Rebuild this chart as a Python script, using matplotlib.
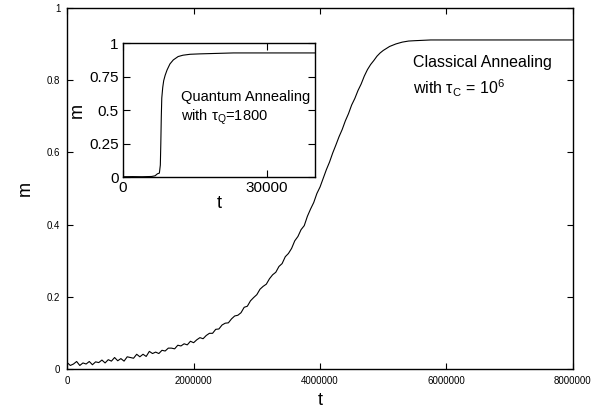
import matplotlib
matplotlib.use("Agg")
import matplotlib.pyplot as plt

plt.rcParams['font.family'] = ['Liberation Sans', 'DejaVu Sans']
plt.rcParams['mathtext.fontset'] = 'custom'
plt.rcParams['mathtext.rm'] = 'Liberation Sans'

# main curve: classical annealing (t in units of 1e6 steps)
t_classical = [0.00, 0.05, 0.10, 0.15, 0.20, 0.25, 0.30, 0.35, 0.40, 0.45,
               0.50, 0.55, 0.60, 0.65, 0.70, 0.75, 0.80, 0.85, 0.90, 0.95,
               1.00, 1.05, 1.10, 1.15, 1.20, 1.25, 1.30, 1.35, 1.40, 1.45,
               1.50, 1.55, 1.60, 1.65, 1.70, 1.75, 1.80, 1.85, 1.90, 1.95,
               2.00, 2.05, 2.10, 2.15, 2.20, 2.25, 2.30, 2.35, 2.40, 2.45,
               2.50, 2.55, 2.60, 2.65, 2.70, 2.75, 2.80, 2.85, 2.90, 2.95,
               3.00, 3.05, 3.10, 3.15, 3.20, 3.25, 3.30, 3.35, 3.40, 3.45,
               3.50, 3.55, 3.60, 3.65, 3.70, 3.75, 3.80, 3.85, 3.90, 3.95,
               4.00, 4.05, 4.10, 4.15, 4.20, 4.25, 4.30, 4.35, 4.40, 4.45,
               4.50, 4.55, 4.60, 4.65, 4.70, 4.75, 4.80, 4.85, 4.90, 4.95,
               5.00, 5.10, 5.20, 5.30, 5.40, 5.50, 5.75, 6.00, 8.00]
m_classical = [0.018, 0.010, 0.014, 0.021, 0.010, 0.017, 0.014, 0.021, 0.012, 0.020,
               0.018, 0.025, 0.017, 0.026, 0.022, 0.032, 0.023, 0.029, 0.022, 0.034,
               0.032, 0.030, 0.041, 0.034, 0.041, 0.035, 0.049, 0.043, 0.047, 0.043,
               0.052, 0.050, 0.058, 0.058, 0.056, 0.066, 0.064, 0.070, 0.067, 0.077,
               0.073, 0.081, 0.087, 0.084, 0.093, 0.099, 0.099, 0.110, 0.111, 0.122,
               0.127, 0.128, 0.139, 0.147, 0.149, 0.156, 0.171, 0.174, 0.189, 0.198,
               0.206, 0.221, 0.229, 0.235, 0.250, 0.261, 0.268, 0.284, 0.292, 0.311,
               0.320, 0.334, 0.355, 0.367, 0.386, 0.397, 0.423, 0.443, 0.461, 0.486,
               0.504, 0.528, 0.552, 0.573, 0.598, 0.620, 0.643, 0.663, 0.687, 0.707,
               0.731, 0.749, 0.771, 0.789, 0.811, 0.829, 0.843, 0.854, 0.866, 0.875,
               0.882, 0.893, 0.900, 0.905, 0.908, 0.909, 0.911, 0.911, 0.911]

# inset curve: quantum annealing
t_quantum = [0, 2000, 4000, 6000, 6700, 7200, 7600, 7800, 7900, 8000, 8100,
             8300, 8500, 8800, 9200, 9800, 10500, 11500, 12500, 14000, 16000,
             20000, 23000, 26000, 30000, 35000, 40000]
m_quantum = [0.003, 0.004, 0.003, 0.005, 0.010, 0.025, 0.030, 0.090, 0.250, 0.450, 0.590,
             0.670, 0.720, 0.760, 0.800, 0.845, 0.875, 0.900, 0.910, 0.917, 0.920,
             0.924, 0.927, 0.927, 0.927, 0.927, 0.927]

main_xticks = [0, 2000000, 4000000, 6000000, 8000000]
main_yticks = [0, 0.2, 0.4, 0.6, 0.8, 1]
main_ylabels = ['0', '0.2', '0.4', '0.6', '0.8', '1']
inset_xticks = [0, 30000]
inset_yticks = [0, 0.25, 0.5, 0.75, 1]
inset_ylabels = ['0', '0.25', '0.5', '0.75', '1']

fig = plt.figure(figsize=(6.05, 4.11), dpi=100)
ax = fig.add_axes([0.111, 0.102, 0.836, 0.879])
ax.plot([t * 1e6 for t in t_classical], m_classical, color='black', lw=0.8)
ax.set_xlim(0, 8000000)
ax.set_ylim(0, 1)
ax.set_xticks(main_xticks)
ax.set_xticklabels([str(v) for v in main_xticks])
ax.set_yticks(main_yticks)
ax.set_yticklabels(main_ylabels)
ax.tick_params(direction='in', length=4, width=0.8, labelsize=7,
               top=True, right=True, pad=5)
ax.set_xlabel('t', fontsize=13, labelpad=4)
ax.set_ylabel('m', fontsize=13, labelpad=9)
for s in ax.spines.values():
    s.set_linewidth(1.0)
ax.text(0.684, 0.849, 'Classical Annealing', transform=ax.transAxes,
        fontsize=11.5, va='center', ha='left')
ax.text(0.684, 0.778, r'with τ$_{\rm C}$ = 10$^{\rm 6}$', transform=ax.transAxes,
        fontsize=11.5, va='center', ha='left')

ins = fig.add_axes([0.203, 0.569, 0.318, 0.326])
ins.plot(t_quantum, m_quantum, color='black', lw=0.8)
ins.set_xlim(0, 40000)
ins.set_ylim(0, 1)
ins.set_xticks(inset_xticks)
ins.set_xticklabels(['0', '30000'])
ins.set_yticks(inset_yticks)
ins.set_yticklabels(inset_ylabels)
ins.tick_params(direction='in', length=5, width=0.8, labelsize=11,
                top=True, right=True, pad=3)
ins.set_xlabel('t', fontsize=13, labelpad=0)
ins.set_ylabel('m', fontsize=13, labelpad=2)
for s in ins.spines.values():
    s.set_linewidth(1.0)
ins.text(0.30, 0.597, 'Quantum Annealing', transform=ins.transAxes,
         fontsize=10.5, va='center', ha='left')
ins.text(0.30, 0.448, r'with τ$_{\rm Q}$=1800', transform=ins.transAxes,
         fontsize=10.5, va='center', ha='left')

fig.savefig('out.png', dpi=100)
